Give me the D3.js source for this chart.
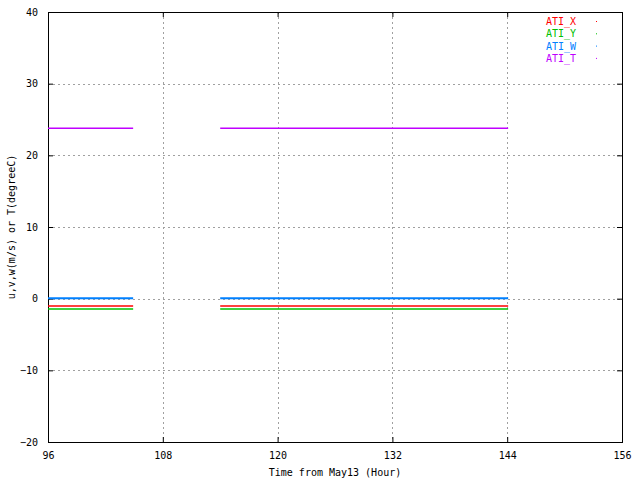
<!DOCTYPE html>
<html>
<head>
<meta charset="utf-8">
<script src="https://cdn.jsdelivr.net/npm/d3@7"></script>
<style>
  body { margin: 0; background: #fff; }
  text { font-family: "DejaVu Sans Mono", monospace; font-size: 10px; fill: #000; }
</style>
</head>
<body>
<script>
var margin = {top: 12, right: 18, bottom: 38, left: 48},
  width = 640 - margin.left - margin.right,
  height = 480 - margin.top - margin.bottom;

// hours from May13, two recording periods
var times1 = [96, 97, 98, 99, 100, 101, 102, 103, 104, 104.9];
var times2 = [114, 116, 118, 120, 122, 124, 126, 128, 130, 132, 134, 136, 138, 140, 142, 144.1];

var atiX1 = [-1.02, -1.02, -1.02, -1.02, -1.02, -1.02, -1.02, -1.02, -1.02, -1.02];
var atiY1 = [-1.44, -1.44, -1.44, -1.44, -1.44, -1.44, -1.44, -1.44, -1.44, -1.44];
var atiW1 = [0.05, 0.05, 0.05, 0.05, 0.05, 0.05, 0.05, 0.05, 0.05, 0.05];
var atiT1 = [23.78, 23.78, 23.78, 23.78, 23.78, 23.78, 23.78, 23.78, 23.78, 23.78];

var atiX2 = [-1.02, -1.02, -1.02, -1.02, -1.02, -1.02, -1.02, -1.02, -1.02, -1.02, -1.02, -1.02, -1.02, -1.02, -1.02, -1.02];
var atiY2 = [-1.44, -1.44, -1.44, -1.44, -1.44, -1.44, -1.44, -1.44, -1.44, -1.44, -1.44, -1.44, -1.44, -1.44, -1.44, -1.44];
var atiW2 = [0.05, 0.05, 0.05, 0.05, 0.05, 0.05, 0.05, 0.05, 0.05, 0.05, 0.05, 0.05, 0.05, 0.05, 0.05, 0.05];
var atiT2 = [23.78, 23.78, 23.78, 23.78, 23.78, 23.78, 23.78, 23.78, 23.78, 23.78, 23.78, 23.78, 23.78, 23.78, 23.78, 23.78];

var xTicks = [96, 108, 120, 132, 144, 156];
var yTicks = [-20, -10, 0, 10, 20, 30, 40];

var series = [
  {name: "ATI_X", color: "#ff0000", seg: [atiX1, atiX2], w: 1.5},
  {name: "ATI_Y", color: "#00c000", seg: [atiY1, atiY2], w: 1.5},
  {name: "ATI_W", color: "#0080ff", seg: [atiW1, atiW2], w: 2},
  {name: "ATI_T", color: "#c000ff", seg: [atiT1, atiT2], w: 1.5}
];

var svg = d3.select("body").append("svg")
  .attr("width", 640)
  .attr("height", 480);

var g = svg.append("g")
  .attr("transform", "translate(" + margin.left + "," + margin.top + ")");

var x = d3.scaleLinear().domain([96, 156]).range([0, width]);
var y = d3.scaleLinear().domain([-20, 40]).range([height, 0]);

// grid
g.append("g").selectAll("line")
  .data(xTicks.slice(1, -1))
  .enter().append("line")
  .attr("x1", (d) => Math.round(x(d)) + 0.5).attr("x2", (d) => Math.round(x(d)) + 0.5)
  .attr("y1", 0).attr("y2", height)
  .style("stroke", "#a0a0a0").style("stroke-dasharray", "2,3");
g.append("g").selectAll("line")
  .data(yTicks.slice(1, -1))
  .enter().append("line")
  .attr("y1", (d) => Math.round(y(d)) + 0.5).attr("y2", (d) => Math.round(y(d)) + 0.5)
  .attr("x1", 0).attr("x2", width)
  .style("stroke", "#a0a0a0").style("stroke-dasharray", "2,3");

// axes
g.append("g")
  .attr("transform", "translate(0," + height + ")")
  .call(d3.axisBottom(x).tickValues(xTicks).tickSize(-5).tickPadding(10))
  .call((a) => a.select(".domain").remove());
g.append("g")
  .call(d3.axisTop(x).tickValues(xTicks).tickSize(-5).tickFormat(""))
  .call((a) => a.select(".domain").remove());
g.append("g")
  .call(d3.axisLeft(y).tickValues(yTicks).tickSize(-5).tickPadding(10))
  .call((a) => a.select(".domain").remove());
g.append("g")
  .attr("transform", "translate(" + width + ",0)")
  .call(d3.axisRight(y).tickValues(yTicks).tickSize(-5).tickFormat(""))
  .call((a) => a.select(".domain").remove());
g.selectAll(".tick text").style("font-family", "DejaVu Sans Mono, monospace").style("font-size", "10px");

g.append("rect")
  .attr("x", 0.5).attr("y", 0.5)
  .attr("width", width).attr("height", height)
  .style("fill", "none").style("stroke", "#000");

// data
var line = d3.line().x((d) => x(d[0])).y((d) => y(d[1]));
var times = [times1, times2];
series.forEach((s) => {
  s.seg.forEach((vals, i) => {
    g.append("path")
      .datum(vals.map((v, j) => [times[i][j], v]))
      .attr("d", line)
      .style("fill", "none")
      .style("stroke", s.color)
      .style("stroke-width", s.w);
  });
});

// legend
var legend = svg.append("g");
series.forEach((s, i) => {
  legend.append("text")
    .attr("x", 576).attr("y", 25 + i * 12.3)
    .attr("text-anchor", "end")
    .style("fill", s.color)
    .text(s.name);
  legend.append("rect")
    .attr("x", 596).attr("y", 21 + i * 12.3)
    .attr("width", 1).attr("height", 1)
    .style("fill", s.color);
});

// labels
svg.append("text")
  .attr("x", margin.left + width / 2).attr("y", 476)
  .attr("text-anchor", "middle")
  .text("Time from May13 (Hour)");
svg.append("text")
  .attr("transform", "translate(15," + (margin.top + height / 2) + ") rotate(-90)")
  .attr("text-anchor", "middle")
  .text("u,v,w(m/s) or T(degreeC)");
</script>
</body>
</html>
